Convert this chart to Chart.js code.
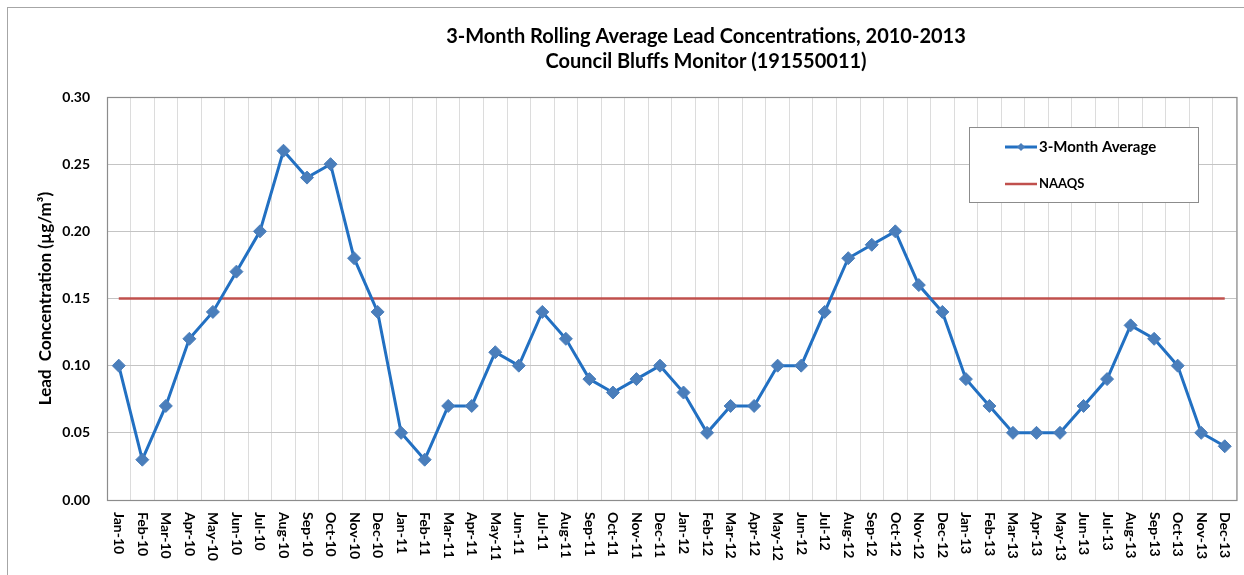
<!DOCTYPE html>
<html>
<head>
<meta charset="utf-8">
<script src="https://cdn.jsdelivr.net/npm/chart.js@4.4.0/dist/chart.umd.min.js"></script>
<style>
  html, body { margin: 0; padding: 0; background: #fff; }
  #wrap { width: 1244px; height: 575px; position: relative; }
</style>
</head>
<body>
<div id="wrap"><canvas id="leadChart" width="1244" height="575"></canvas></div>
<script>
// chart data
const months = [
  'Jan-10','Feb-10','Mar-10','Apr-10','May-10','Jun-10','Jul-10','Aug-10','Sep-10','Oct-10','Nov-10','Dec-10',
  'Jan-11','Feb-11','Mar-11','Apr-11','May-11','Jun-11','Jul-11','Aug-11','Sep-11','Oct-11','Nov-11','Dec-11',
  'Jan-12','Feb-12','Mar-12','Apr-12','May-12','Jun-12','Jul-12','Aug-12','Sep-12','Oct-12','Nov-12','Dec-12',
  'Jan-13','Feb-13','Mar-13','Apr-13','May-13','Jun-13','Jul-13','Aug-13','Sep-13','Oct-13','Nov-13','Dec-13'
];
const rollingAvg = [
  0.10, 0.03, 0.07, 0.12, 0.14, 0.17, 0.20, 0.26, 0.24, 0.25, 0.18, 0.14,
  0.05, 0.03, 0.07, 0.07, 0.11, 0.10, 0.14, 0.12, 0.09, 0.08, 0.09, 0.10,
  0.08, 0.05, 0.07, 0.07, 0.10, 0.10, 0.14, 0.18, 0.19, 0.20, 0.16, 0.14,
  0.09, 0.07, 0.05, 0.05, 0.05, 0.07, 0.09, 0.13, 0.12, 0.10, 0.05, 0.04
];
const naaqsLevel = 0.15;
const naaqs = months.map(() => naaqsLevel);
const yTicks = [0, 0.05, 0.10, 0.15, 0.20, 0.25, 0.30];
const titleLines = ['3-Month Rolling Average Lead Concentrations, 2010-2013', 'Council Bluffs Monitor (191550011)'];

const fontFam = 'Lato, "Open Sans", sans-serif';
const blue = '#2270c2';
const marker = '#4a7ebb';
const red = '#c0504d';

// frame, title, rotated month labels and legend box
const extras = {
  id: 'extras',
  beforeDraw(chart) {
    const c = chart.ctx;
    c.save();
    c.fillStyle = '#fff';
    c.fillRect(0, 0, chart.width, chart.height);
    c.strokeStyle = '#a6a6a6';
    c.lineWidth = 1;
    c.strokeRect(7.5, 7.5, 1300, 700);
    c.restore();
  },
  afterDraw(chart) {
    const c = chart.ctx;
    const a = chart.chartArea;
    c.save();
    // plot frame
    c.strokeStyle = '#8c8c8c';
    c.lineWidth = 1.2;
    c.strokeRect(Math.round(a.left) + 0.5, Math.round(a.top) + 0.5, a.right - a.left, a.bottom - a.top);

    // title
    c.fillStyle = '#000';
    c.font = 'bold 20px ' + fontFam;
    c.textAlign = 'center';
    c.textBaseline = 'middle';
    c.fillText(titleLines[0], 706, 37);
    c.fillText(titleLines[1], 706, 62);

    // x labels, reading top to bottom
    const xs = chart.scales.x;
    c.font = 'bold 14px ' + fontFam;
    c.textAlign = 'left';
    c.textBaseline = 'middle';
    months.forEach((m, i) => {
      const x = xs.getPixelForValue(i);
      c.save();
      c.translate(x, a.bottom + 12);
      c.rotate(Math.PI / 2);
      c.fillText(m, 0, 0);
      c.restore();
    });

    // legend
    const lx = 969, ly = 127, lw = 229, lh = 75;
    c.fillStyle = '#fff';
    c.fillRect(lx, ly, lw, lh);
    c.strokeStyle = '#8c8c8c';
    c.lineWidth = 1;
    c.strokeRect(lx + 0.5, ly + 0.5, lw, lh);

    c.strokeStyle = blue;
    c.lineWidth = 3;
    c.beginPath();
    c.moveTo(1005, 147);
    c.lineTo(1037, 147);
    c.stroke();
    c.fillStyle = marker;
    c.beginPath();
    c.moveTo(1021, 143);
    c.lineTo(1025, 147);
    c.lineTo(1021, 151);
    c.lineTo(1017, 147);
    c.closePath();
    c.fill();

    c.strokeStyle = red;
    c.lineWidth = 2.5;
    c.beginPath();
    c.moveTo(1005, 184);
    c.lineTo(1037, 184);
    c.stroke();

    c.fillStyle = '#000';
    c.font = 'bold 15px ' + fontFam;
    c.textAlign = 'left';
    c.fillText('3-Month Average', 1039, 147);
    c.font = 'bold 13px ' + fontFam;
    c.fillText('NAAQS', 1039, 184);
    c.restore();
  }
};

new Chart(document.getElementById('leadChart'), {
  type: 'line',
  data: {
    labels: months,
    datasets: [
      {
        label: '3-Month Average',
        data: rollingAvg,
        borderColor: blue,
        borderWidth: 3,
        pointStyle: 'rectRot',
        pointRadius: 6.5,
        pointBackgroundColor: marker,
        pointBorderColor: marker,
        pointBorderWidth: 1,
        tension: 0
      },
      {
        label: 'NAAQS',
        data: naaqs,
        borderColor: red,
        borderWidth: 2.5,
        pointRadius: 0
      }
    ]
  },
  options: {
    responsive: false,
    animation: false,
    layout: { padding: { top: 97, right: 7, left: 0, bottom: 0 } },
    plugins: {
      legend: { display: false },
      tooltip: { enabled: false }
    },
    scales: {
      x: {
        offset: true,
        grid: { offset: true, color: '#dcdcdc', drawTicks: false },
        border: { display: false },
        ticks: { display: false },
        afterFit(s) { s.height = 75; }
      },
      y: {
        min: 0,
        max: 0.30,
        afterBuildTicks(s) { s.ticks = yTicks.map(v => ({ value: v })); },
        grid: { color: '#c4c4c4', drawTicks: false },
        border: { display: false },
        ticks: {
          color: '#000',
          padding: 17,
          font: { family: fontFam, size: 14, weight: 'bold' },
          callback: v => v.toFixed(2)
        },
        title: {
          display: true,
          text: 'Lead  Concentration (\u00b5g/m\u00b3)',
          color: '#000',
          font: { family: fontFam, size: 17, weight: 'bold' },
          padding: { top: 35, bottom: 0 }
        },
        afterFit(s) { s.width = 107; }
      }
    }
  },
  plugins: [extras]
});
</script>
</body>
</html>
